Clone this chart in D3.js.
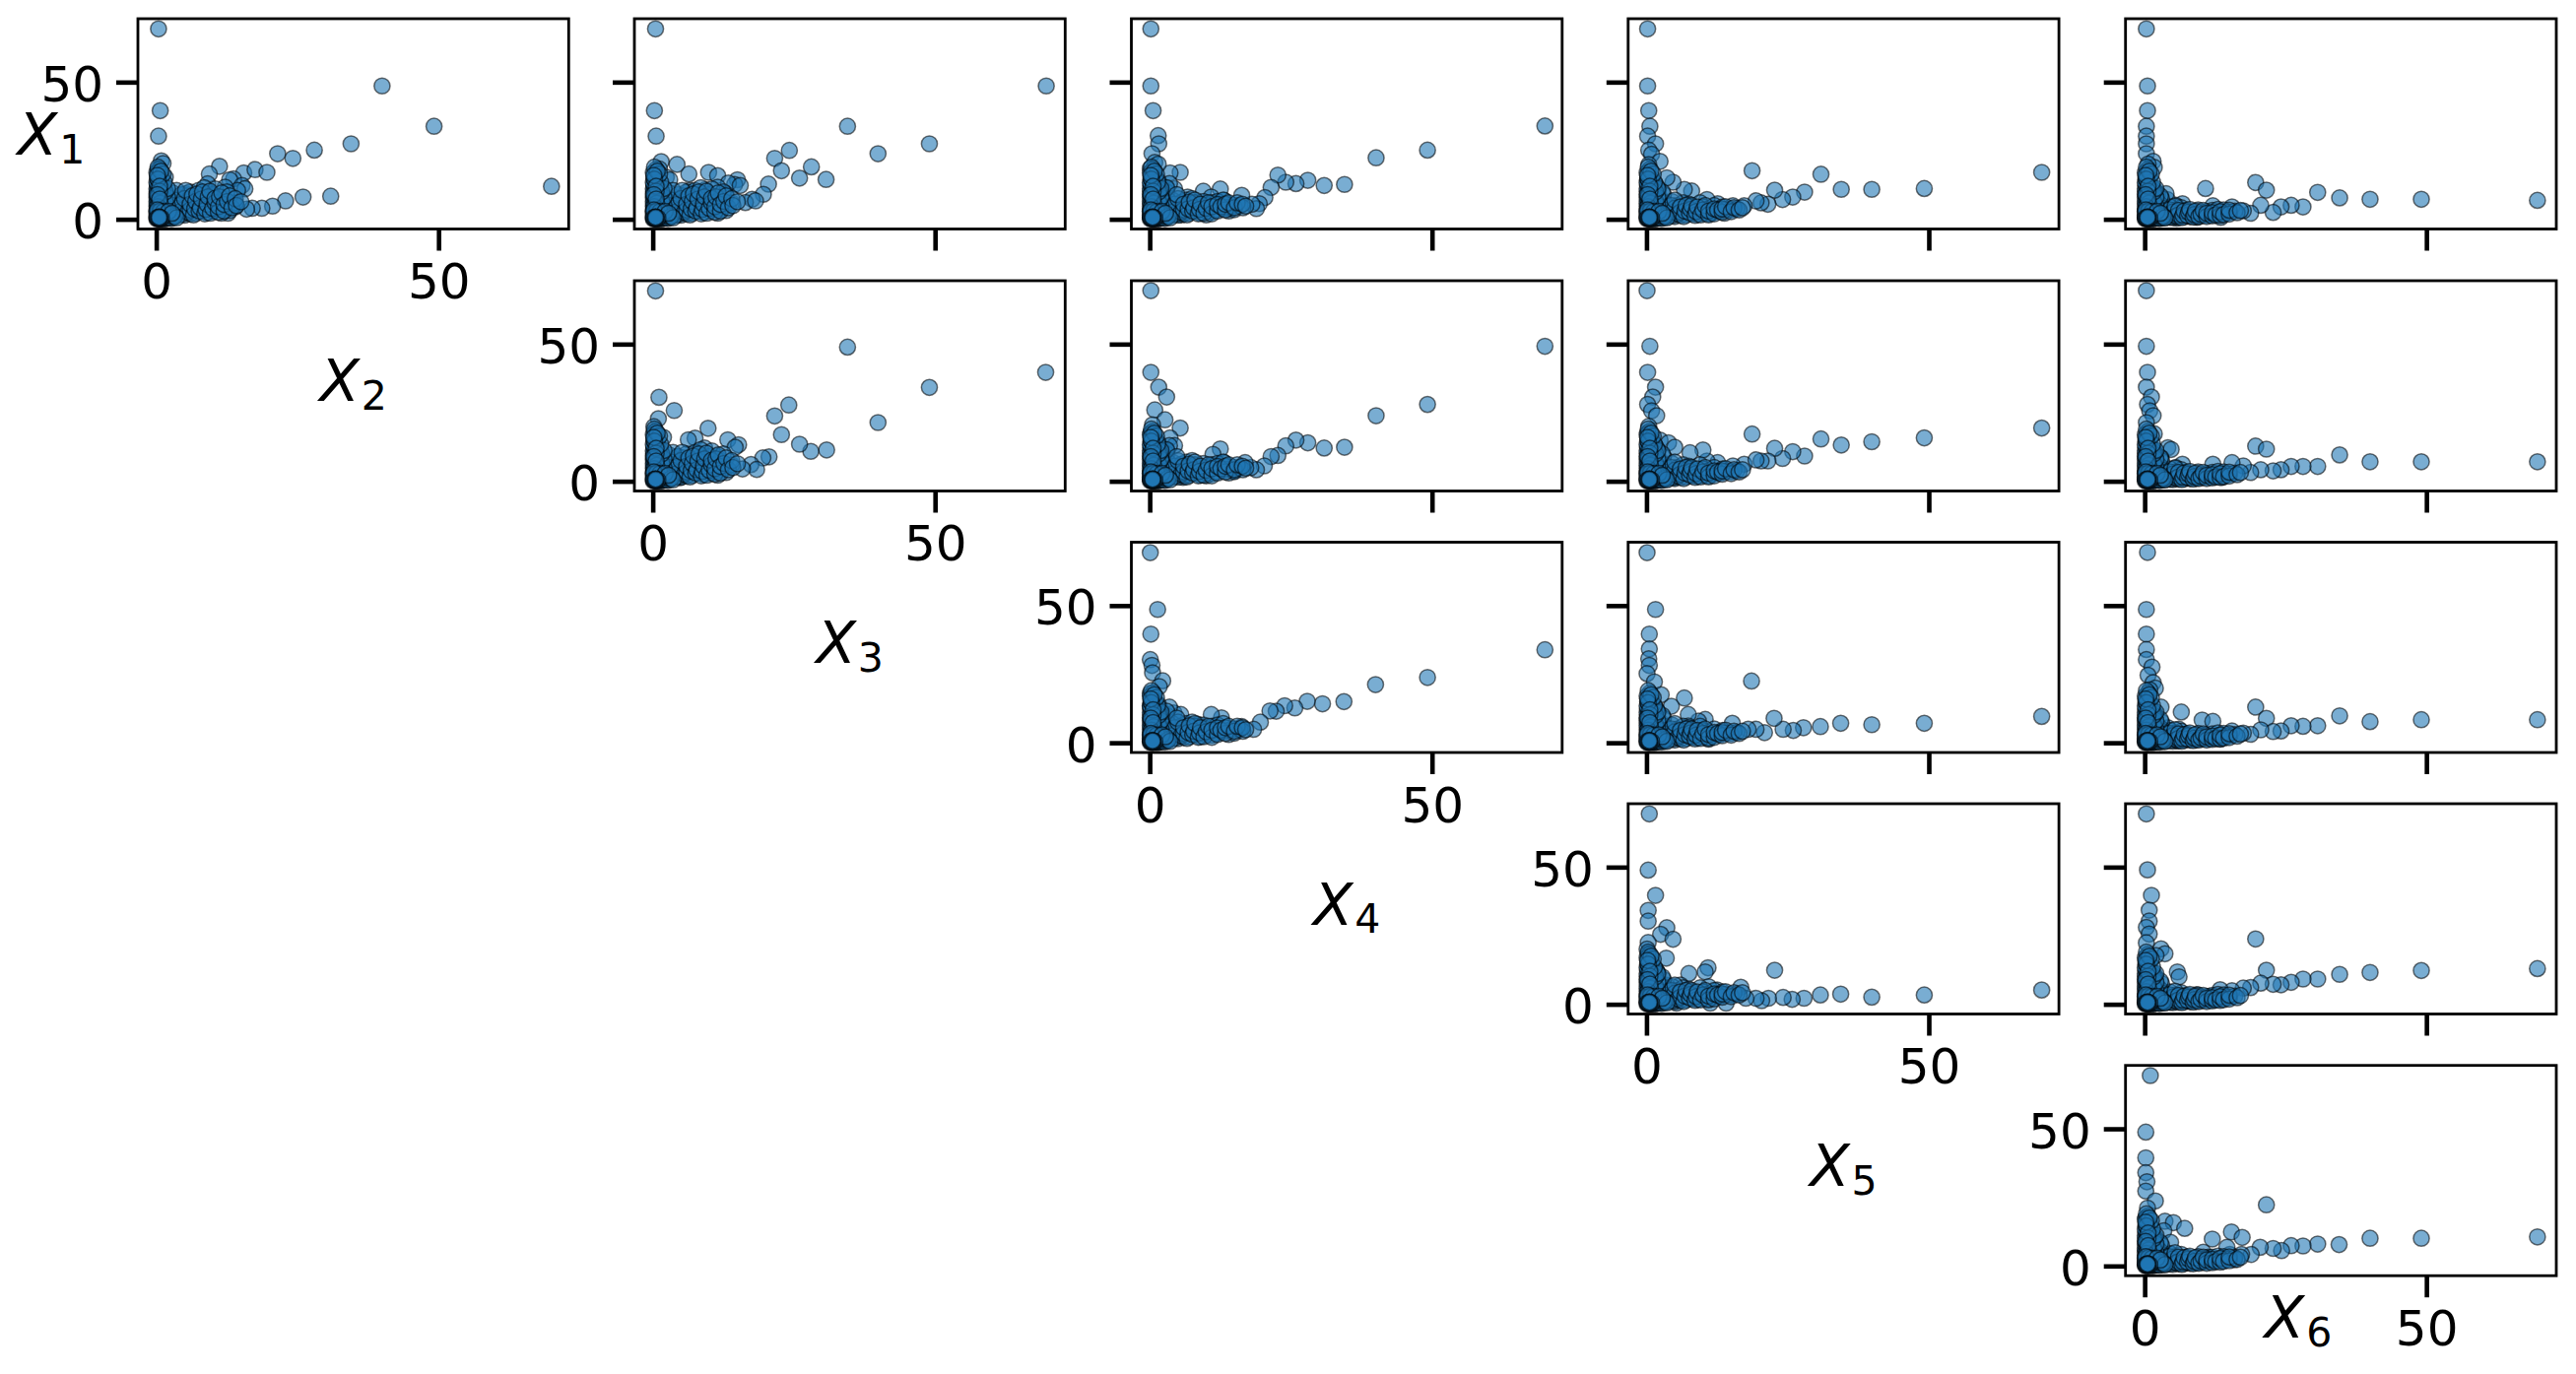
<!DOCTYPE html>
<html><head><meta charset="utf-8">
<script src="https://cdnjs.cloudflare.com/ajax/libs/d3/7.8.5/d3.min.js"></script>
<style>html,body{margin:0;padding:0;background:#fff}svg{display:block}</style>
</head><body><svg id="chart" width="2615" height="1395"></svg>
<script>
// Dense parts of the clouds, shared by panels whose clusters look alike
const originCore=[[.1,.1],[.2,.4],[.4,.2],[.1,.7],[.6,.1],[.3,.9],[.8,.3],[.5,.5],[.2,1.2],[1.1,.2],[.7,.8],[1,.6],[.1,1.5],[1.4,.1],[.4,1.4],[1.3,.5],[.9,1.1],[1.7,.3],[.8,1.6],[1.5,.9],[.3,2.3],[2,.4],[1.2,1.3],[.6,2],[2.3,.6],[1,2.2],[1.8,1.2],[.1,2.7],[2.7,.3],[1.5,1.8],[3,.7],[2.5,1.5],[2,2.1],[.7,3],[1.3,2.8],[3.3,1.1],[.2,3.4],[2.2,2.9],[3.6,.5],[2.8,2.2],[.5,.9],[.9,.5],[.2,.6],[.6,.2],[.4,.4],[.6,.6],[.5,.7]];
const verticalArm=[[.1,3],[.4,3.4],[.2,4],[.7,4.2],[.1,4.8],[.5,5],[.9,5.4],[.2,5.8],[.1,6.4],[.6,6.6],[1.1,6.9],[.3,7.3],[.1,7.9],[.8,8],[.4,8.6],[.1,9.2],[1.2,9],[.5,9.7],[.2,10.3],[.9,10.6],[.1,11.1],[.4,11.6],[1.3,11.8],[.2,12.4],[.7,12.8],[.1,13.4],[.5,14],[.2,15],[.9,15.4],[.4,16.3],[.1,17],[.6,18.2],[.3,19],[1.5,3.5],[2,5],[1.6,6.5],[2,8],[1.6,10],[2,11.2],[1.4,13.5],[1.2,16.5],[.8,17.5],[.3,14.6],[.6,10.2],[.3,8.2],[.7,5.8],[.3,4.6],[1,3.2],[.4,2.6],[1.6,2.4],[.2,16],[.6,12],[.2,9],[.6,7.4]];
const fanFill=[[1.5,1],[2,2.5],[2.5,1],[3,3],[3,5],[2,6],[2.5,8],[3.5,1.2],[4,2.5],[4,4.5],[4,7],[3,9.5],[4.5,9],[5,1.5],[5,3.5],[5.5,6],[5.5,8.5],[6,2],[6,4.5],[6.5,7],[6,10],[7,2.2],[7,5],[7.5,8],[7.5,10.5],[8,3],[8,6],[8.5,9],[8.5,11.5],[9,2.5],[9,4.5],[9.5,7],[10,3],[10,5],[10,9],[10.5,11],[11,3.5],[11,6],[12,4],[12,7.5],[12.5,10],[13,5],[13,3.2],[14,6],[11.5,2.2],[1,3],[1.5,4],[1.8,5],[2.2,7],[1.5,8],[3.2,7],[3.6,10.5],[2.4,3.5],[2.8,2],[3.4,4],[4.5,1.8],[4.6,3.2],[4.4,5.5],[5,7.5],[5.2,10.5],[5.6,2.6],[6,3.4],[6,5.5],[6.4,8.5],[6.6,1.6],[6.8,3.8],[7,6.5],[7.2,9.2],[7.6,3],[7.8,4.2],[8,7.4],[8.2,10],[8.6,2],[8.8,3.6],[9,5.5],[9.2,8.2],[9.5,10.2],[9.6,2.2],[10,4],[10.4,6],[10.4,7.6],[11,2.6],[11,4.6],[11.2,8.2],[11.6,9.6],[12,3],[12,5.4],[12.6,6.5],[13,8.5],[13.4,4.2],[14,7.5],[14.2,5],[15,6.4]];
const midFill=[[1.5,1],[2,2.5],[2.5,1],[3,3],[3,5],[2,6],[2.5,8],[3.5,1.2],[4,2.5],[4,4.5],[4,7],[5,1.5],[5,3.5],[5.5,6],[6,2],[6,4.5],[6.5,7],[7,2.2],[7,5],[7.5,7.5],[8,3],[8,6],[9,2.2],[9,4.5],[9.5,6.5],[10,3],[10,5],[11,2.8],[11,6],[12,3.5],[12,6.5],[13,4],[13,7],[14,4.5],[14,3],[15,5],[15,3.5],[16,5],[16.5,4.2],[3,10],[2,12],[3.5,13],[1.5,14],[1,3],[1.5,4],[1.8,5],[2.2,7],[1.5,8.5],[3.2,7],[3,11.5],[1.8,10.5],[2.4,3.5],[2.8,2],[3.4,4],[4.5,1.8],[4.6,3.2],[4.4,5.5],[5,7.5],[4.8,9],[5.6,2.6],[6,3.4],[6,5.5],[6.6,1.6],[6.8,3.8],[7,6.2],[7.6,3],[7.8,4.2],[8,7],[8.6,2],[8.8,3.6],[9,5.5],[9.6,2.2],[10,4],[10.4,6],[11,2],[11,4.6],[12,3],[12,5.4],[12.6,4.6],[13.4,3.4],[13.4,5.5],[14,6],[15,4.2],[15.5,6],[16.4,5.5],[17,4.8]];
const lowFill=[[1.5,.6],[2,1.8],[2.5,.7],[3,2.5],[3,4.5],[2,5.5],[2.5,7.5],[3.5,.8],[4,2],[4,4],[4.5,6.5],[5,1],[5,3],[5.5,5],[6,1.4],[6,3.5],[6.5,6],[7,1.6],[7,4],[7.5,5.5],[8,2],[8,4.5],[9,1.8],[9,3.5],[9.5,6],[10,2.2],[10,4.5],[11,2],[11,3.8],[12,2.8],[12,5],[13,3],[13.5,4.5],[14,3.5],[15,3.5],[16,3.8],[1.2,9],[2,11],[3,9],[1.5,13],[1,2.5],[1.5,3.5],[1.8,4.5],[2.2,6.5],[1.5,7.5],[3.2,6],[2.8,10],[1.8,12],[2.4,3],[2.8,1.4],[3.4,3.2],[4.5,1.4],[4.6,2.6],[4.4,5],[5,4],[5,7],[5.6,2],[6,2.6],[6,4.5],[6.6,1],[6.8,3],[7,5],[7.6,2.4],[7.8,3.6],[8,5],[8.6,1.4],[8.8,2.8],[9,4.5],[9.6,1.6],[10,3.4],[10.4,5],[11,1.6],[11,3],[12,2],[12,3.8],[12.6,3.4],[13.4,2.6],[13.4,3.8],[14,4.6],[15,2.8],[15.5,4.2],[16.4,3.4],[17,4.2]];
const thinFill=[[1.5,.4],[2,1],[2.5,.4],[3,1.5],[3,3],[2,4],[2.5,6],[3.5,.5],[4,1.2],[4,2.5],[4.5,4.5],[5,.6],[5,1.8],[5.5,3.4],[6,.8],[6,2.4],[6.5,4.2],[7,.9],[7,2],[7.5,3.2],[8,1],[8,2.2],[9,1.1],[9,2.4],[9.5,3.4],[10,1.3],[10,2.4],[11,1.5],[11,2.8],[12,1.7],[12,3.2],[13,2],[13,3.6],[14,2.2],[14,3.4],[15,2.6],[16,3],[1.2,8],[2,9.5],[3,7.5],[1.5,11],[3,5],[1,2],[1.5,3],[1.8,4.5],[2.2,6.5],[1.5,7.5],[3.2,4],[2.8,8.5],[1.8,10.5],[2.4,2.4],[2.8,.8],[3.4,2],[4.5,.8],[4.6,1.6],[4.4,3.4],[5,2.6],[5.4,4.8],[5.6,1.2],[6,1.6],[6,3.2],[6.6,.6],[6.8,1.5],[7,3],[7.6,1.4],[7.8,2.6],[8,3.6],[8.6,.8],[8.8,1.7],[9,3],[9.6,1],[10,1.8],[10.4,3.2],[11,1],[11,2.2],[12,1.2],[12,2.4],[12.6,1.6],[13.4,1.4],[13.4,2.8],[14,1.7],[15,1.9],[15,3.3],[16.4,2.4],[17,3.2]];

// Individually readable points, one list per panel: [x, y]
const x1x2=[[.4,69.4],[40,48.6],[49.2,33.9],[34.5,27.5],[28,25.2],[21.5,23.9],[24.2,22.2],[.7,39.6],[.4,30.3],[.9,21.3],[1.2,20.3],[.3,18.3],[1.6,15.3],[11.2,19.3],[9.4,16.5],[15.5,16.9],[17.5,18.1],[19.6,17.1],[70,12],[30.9,8.4],[26,8.1],[22.9,6.7],[20.6,4.8],[18.7,4],[17,4],[16,3.7],[12.7,2.2],[14,4.5],[13.7,14.7],[13,14.4],[15.2,12.3],[15.7,11.1],[14.4,10.5],[12.2,11.7],[9.1,12.9],[9.3,9.9],[7.3,7.5],[5.2,9.3],[5.3,4.5],[4.8,5.7],[10,4],[10.2,3.2]];
const x1x3=[[.5,69.4],[69.7,48.6],[.3,39.6],[.6,30.3],[34.5,33.9],[39.9,23.9],[49,27.5],[24.2,25.1],[21.6,22.2],[22.8,17.7],[28.1,19.1],[26,15],[30.7,14.5],[20.5,12.8],[19.6,9.1],[17.6,7.3],[16.4,6.1],[18.2,6.7],[1.5,21],[1.2,18.3],[4.3,20],[2.4,15.3],[3,14.4],[6.4,16.5],[9.9,17.1],[11.5,15.9],[15,14.4],[14.5,12.7],[13.4,13.2],[15.5,12.3],[12.9,9.3],[11.5,11.7],[9.3,10.8],[6.5,10.5],[9,6.7],[10.7,4],[7,5.1],[4.5,4.3],[4.2,1.6],[2,.4]];
const x1x4=[[.2,69.4],[.2,48.6],[.6,39.6],[70,34],[49.2,25.2],[40.1,22.4],[34.5,12.7],[30.9,12.3],[28,14.2],[25.9,13],[24.1,13.5],[22.7,16.1],[21.5,11.6],[20.4,7.9],[19.4,5.7],[18.9,3.9],[18.1,5.5],[16.3,8.7],[13.2,6.9],[12.5,11],[9.5,10.2],[10.9,8.1],[6.7,8.1],[5.4,17.1],[3.6,16.9],[1.5,30.5],[1.6,27.5],[.4,23.9],[.9,20.7],[1.5,20.1],[.1,18.5],[.9,15.1],[.4,14.1],[3,11.1],[4.4,11.1],[8.4,5.1],[11.8,5.1],[14.1,3.9],[10,1.6],[5.6,1.6]];
const x1x5=[[.2,69.4],[.2,48.6],[.4,39.6],[70,17.1],[49.2,11.2],[39.9,10.9],[34.5,10.9],[30.9,16.4],[18.7,17.7],[28,9.9],[25.9,8.1],[24.1,7.2],[22.7,10.6],[21.5,5.5],[20.3,6],[19.4,6.7],[17.3,4.9],[15.3,4.9],[12.6,5.7],[10.7,7.2],[11.4,2.2],[13.8,2.2],[7.4,4.8],[8,10.3],[6.7,10.9],[4.7,13.5],[3.6,15.1],[.6,33.9],[.2,30.3],[1.6,27.5],[.4,25.2],[.9,23.7],[2.4,21.1],[.4,19.9],[.2,14.1],[2.1,10.5]];
const x1x6=[[.3,69.4],[.5,48.6],[.5,39.6],[.3,33.9],[.3,30.3],[.3,27.5],[.3,23.9],[1.5,21.1],[1.7,18.9],[.6,20.1],[.5,15.1],[10.8,11.2],[19.7,13.4],[21.6,10.6],[30.7,9.8],[34.6,7.8],[40,7.3],[49.1,7.3],[69.7,6.9],[28.1,4.5],[26,5.1],[24.2,4.5],[22.8,2.5],[20.6,5.1],[18.8,2.2],[17.5,3.1],[15.5,4.5],[12.1,4.9],[13.5,.7],[11.4,1.6],[9.3,.7],[6.7,5.7],[5.5,5.1],[4,7.2],[3.8,9.3],[2.3,9.3],[5.7,.4],[2.3,.4]];
const x2x3=[[.5,69.4],[34.5,48.9],[69.6,39.7],[49,34.2],[39.9,21.4],[24.1,27.8],[21.6,23.8],[22.8,17],[30.8,11.4],[28,10.9],[26,13.5],[20.6,8.9],[19.5,8.5],[17.4,6.1],[18.4,4.3],[15.9,4.5],[12.9,5.3],[9.8,19.3],[7.5,15.7],[6.3,15.1],[13.3,15.1],[15.2,13.3],[14.6,12.4],[9.2,12.1],[11.4,9.1],[8.9,6.7],[6.7,5.5],[10.5,3.1],[4.4,9.1],[4.8,1.3],[1.1,30.6],[3.8,25.8],[1,22.8],[.2,19.9],[.3,18],[1.9,16],[.8,12.7],[1,10.3]];
const x2x4=[[.2,69.5],[70,49.2],[49.2,28],[40.1,23.9],[34.5,12.4],[30.9,12.1],[28,14],[25.9,15],[24.1,12.9],[22.7,9.4],[21.5,9],[20.3,5.6],[18.9,4.2],[17.9,5],[16.9,6.8],[12.5,11.8],[11.2,9.8],[13.2,6.8],[15,3.8],[8.5,5],[10,2],[5.9,1.4],[.2,39.7],[1.6,34.3],[3,30.7],[.9,26],[2.7,22.4],[5.4,19.4],[.5,20.6],[.2,17.6],[3.6,15.8],[4.4,13],[.4,14],[3,11],[2.7,7.4],[5.6,6.2]];
const x2x5=[[.1,69.5],[.6,49.2],[.2,39.7],[1.6,34.3],[1.1,30.7],[.2,28],[.9,25.7],[1.8,23.9],[.4,20],[70,19.4],[49.2,15.8],[39.9,14.4],[34.5,13.2],[30.9,15.4],[18.7,17.2],[28,9.2],[25.9,10.8],[24.1,8.3],[22.7,12],[21.5,7.4],[20.3,7.4],[17.3,6.2],[19.4,7.8],[15.3,5.6],[12.6,6.8],[10.7,7.4],[10,11.4],[7.7,10.4],[7.4,5],[11.4,3],[5,1.4],[2.4,15],[3.9,14],[5,12.4],[.2,17.6],[.4,9.8]];
const x2x6=[[.3,69.5],[.3,49.2],[.5,39.7],[.3,34.3],[1.2,30.7],[.5,28],[.9,25.7],[1.5,23.9],[.3,21.4],[1.7,17.3],[4.1,12.2],[4.7,11.6],[19.7,12.8],[21.6,11.7],[34.6,9.6],[40,7.1],[49.1,7.1],[69.7,7.1],[30.7,5.4],[28.1,5.4],[26,5.4],[24.2,4.2],[22.8,3.8],[20.6,4.2],[18.8,3.2],[17.5,5.6],[15.5,6.8],[12.1,6.2],[13.7,1.4],[11.4,2],[9.3,1.4],[6.7,6.2],[5.5,5],[2.9,8.6]];
const x3x4=[[.1,69.3],[1.4,48.6],[.2,39.6],[70,33.9],[49.2,23.8],[40,21.2],[34.4,15],[30.6,14.2],[27.9,15.1],[25.7,12.7],[23.9,13.5],[22.4,11.5],[21.3,11.6],[19.6,7.5],[18.4,4.9],[16.3,5.9],[12.7,9.1],[10.9,10.3],[8.5,6.7],[4.3,10.9],[5.5,10.3],[5.5,3.1],[11.5,4.3],[14.5,4.9],[.1,30.3],[.4,28.2],[.5,25.5],[2.3,22.6],[1.7,20.5],[.1,18],[.7,15.7],[.1,13.3]];
const x3x5=[[.1,69.3],[1.6,48.6],[.5,39.6],[.5,34.2],[.4,30.6],[.5,28.2],[.1,25.2],[1.4,22.2],[18.6,22.5],[6.7,16.3],[4.4,13.3],[2.6,17.5],[70,9.6],[49.2,7.1],[39.9,6.6],[34.4,7.1],[30.8,5.9],[27.8,5.5],[26,4.5],[24.2,4.9],[22.6,8.9],[20.9,3.7],[19.4,4.9],[18,4.9],[15.2,7.1],[12.8,3.7],[11,1.3],[10.4,8.5],[9.2,7.9],[7.4,10.3],[7.4,6.1],[3.8,1.9]];
const x3x6=[[.5,69.4],[.3,48.6],[.3,39.6],[.3,34],[.3,30.3],[1.3,27.6],[.6,24.6],[1.5,21.9],[1.9,19.9],[.9,19.3],[.6,14.5],[2.9,13],[6.5,11.2],[10.2,8.3],[12.1,7.8],[19.7,13],[21.6,8.9],[34.6,9.8],[40,7.7],[49.1,8.4],[69.7,8.4],[30.7,6.2],[28.1,6],[26,6.2],[24.2,4.3],[22.8,4.1],[20.6,4.7],[18.8,3.1],[17.5,3.5],[15.5,4.3],[13.4,1.3],[11.4,1.6],[9.2,1.3],[5.8,.7],[6.1,4.9],[4.1,5.5]];
const x4x5=[[.5,69.4],[.3,48.9],[1.6,39.7],[.3,34.2],[.3,30.3],[3.6,27.9],[2.5,25.5],[4.7,23.7],[.3,22.5],[.1,20.1],[.3,18.3],[3.5,16.8],[.3,13.5],[1.9,11.8],[10.9,13.3],[10.4,11.8],[7.5,11.2],[22.7,12.4],[70,5.2],[49.2,3.4],[39.9,2.6],[34.4,3.7],[30.8,3.4],[27.9,2.2],[25.8,1.8],[24.2,2.5],[21.6,2.2],[20.4,1.3],[19.4,2.2],[16.7,6.2],[17.6,2.2],[14.1,.4],[12.5,5.2],[11,6.4],[11.3,.4],[6,7],[5.3,.4],[3.5,7]];
const x4x6=[[.3,69.4],[.5,49],[1.2,39.7],[.8,34.3],[.8,30.3],[.3,28],[.8,25.6],[.3,22.4],[2.9,20.2],[3.6,18.4],[2,17.8],[.7,13.6],[5.8,11.8],[6.1,10],[19.7,23.8],[21.6,12.4],[34.6,10.9],[40,11.6],[49.1,12.3],[69.7,13],[30.7,9.2],[28.1,9.2],[26,8],[24.2,7.1],[22.8,7.3],[20.6,7.7],[18.8,6.1],[17.5,5.9],[15.5,4.9],[13.4,5.3],[11.4,2.9],[9.2,3.5],[5.8,1.7],[2.3,.5],[.9,5.9]];
const x5x6=[[1,69.4],[.2,48.8],[.2,39.4],[.2,34],[.4,30.7],[.2,27.3],[1.9,23.7],[.5,21.1],[3.6,16.3],[5.1,15.8],[7.1,13.7],[3.4,12.8],[4.6,8.6],[.2,17.5],[.4,11.6],[21.6,22.3],[12,9.8],[15.4,12.4],[17.3,10.4],[69.7,10.6],[49.1,10.1],[40,10.1],[34.5,7.8],[30.7,8],[28.1,7.3],[26,7.4],[24.3,5.6],[22.8,6.4],[20.5,6.8],[18.9,4.2],[17.2,4.2],[15.1,4.2],[15.9,2.3],[14.6,6.8],[10.4,5],[11.3,3.2],[9.3,1.4],[5.7,1.1],[.5,.2]];

const tickValues=[0,50];
const xNames=["2","3","4","5","6"];
const yNames=["1","2","3","4","5"];
const panels=[
 [0,0,x1x2,fanFill],[0,1,x1x3,fanFill],[0,2,x1x4,midFill],[0,3,x1x5,lowFill],[0,4,x1x6,thinFill],
 [1,1,x2x3,fanFill],[1,2,x2x4,midFill],[1,3,x2x5,lowFill],[1,4,x2x6,thinFill],
 [2,2,x3x4,midFill],[2,3,x3x5,lowFill],[2,4,x3x6,thinFill],
 [3,3,x4x5,lowFill],[3,4,x4x6,thinFill],
 [4,4,x5x6,thinFill]];

// Layout
const colLeft=[140,644,1148.5,1652.8,2157.7], rowTop=[19,285,550.5,816,1081.7];
const W=437.3,H=213.5;
const xMin=[-3.25,-3.25,-3.25,-3.25,-3.4];
const FONT='"DejaVu Sans"';
const svg=d3.select("#chart");
svg.append("rect").attr("width",2615).attr("height",1395).attr("fill","#fff");

panels.forEach(([r,c,pts,fill],i)=>{
  const x=d3.scaleLinear().domain([xMin[c],73.05]).range([0,W]);
  const y=d3.scaleLinear().domain([-3.55,73.1]).range([H,0]);
  const g=svg.append("g").attr("transform",`translate(${colLeft[c]},${rowTop[r]})`);
  const diag=r===c;
  const cid="clip"+i;
  g.append("clipPath").attr("id",cid).append("rect").attr("width",W).attr("height",H);
  const all=[...pts,...fill,...verticalArm,...originCore];
  g.append("g").attr("clip-path",`url(#${cid})`).selectAll("circle").data(all).join("circle")
    .attr("cx",d=>x(d[0])).attr("cy",d=>y(d[1])).attr("r",8.1)
    .attr("fill","#1f77b4").attr("fill-opacity",.6)
    .attr("stroke","#000").attr("stroke-opacity",.55).attr("stroke-width",1.5);
  const ax=d3.axisBottom(x).tickValues(tickValues).tickSize(22).tickSizeOuter(0).tickPadding(13)
    .tickFormat(d=>diag?String(d):"");
  const ay=d3.axisLeft(y).tickValues(tickValues).tickSize(22).tickSizeOuter(0).tickPadding(13)
    .tickFormat(d=>diag?String(d):"");
  const gx=g.append("g").attr("transform",`translate(0,${H})`).call(ax);
  const gy=g.append("g").call(ay);
  [gx,gy].forEach(a=>{
    a.select(".domain").remove();
    a.attr("font-family",FONT).attr("font-size",50);
    a.selectAll("line").attr("stroke","#000").attr("stroke-width",4.6);
    a.selectAll("text").attr("fill","#000");
  });
  gy.selectAll("text").attr("dy",".38em");
  g.append("rect").attr("width",W).attr("height",H).attr("fill","none").attr("stroke","#000").attr("stroke-width",2.8);
});

function mathLabel(px,py,sub){
  const t=svg.append("text").attr("x",px).attr("y",py).attr("text-anchor","middle")
    .attr("font-family",FONT).attr("fill","#000");
  t.append("tspan").attr("font-size",59).attr("font-style","italic").text("X");
  t.append("tspan").attr("font-size",41).attr("dy",8.5).attr("dx",2).text(sub);
}
mathLabel(52,157,yNames[0]);
xNames.forEach((n,c)=>{
  const cx=colLeft[c]+W/2;
  if(c<4) mathLabel(cx,rowTop[c]+H+174.5,n);
  else mathLabel(2333,1358,n);
});
</script></body></html>
